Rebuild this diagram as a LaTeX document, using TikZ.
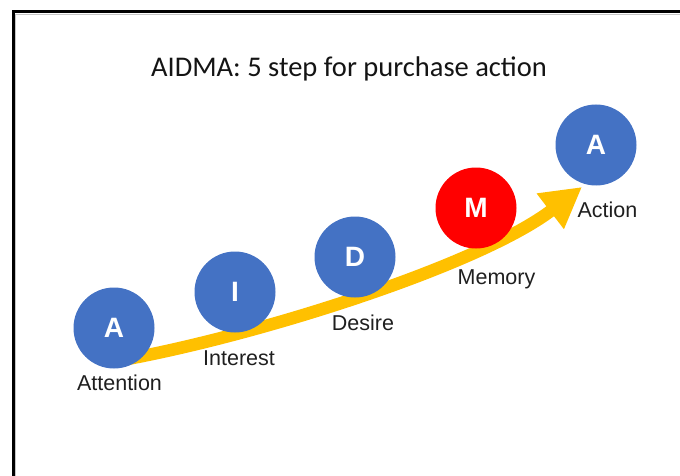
\documentclass[tikz,border=0pt]{standalone}
\usepackage{fontspec}
\setmainfont{Liberation Sans}
\newfontfamily\headingfont{Carlito}
\usetikzlibrary{arrows.meta}
\definecolor{stepblue}{HTML}{4472C4}
\definecolor{stepred}{HTML}{FF0000}
\definecolor{flowgold}{HTML}{FFC000}
\begin{document}
\begin{tikzpicture}[x=1pt,y=-1pt,
  stage/.style={circle, fill=stepblue, minimum size=81pt, inner sep=0pt,
    text=white, font=\fontsize{28}{28}\selectfont\bfseries},
  caption/.style={anchor=base, text=black!88, font=\fontsize{21.5}{21.5}\selectfont},
]
\useasboundingbox (0,0) rectangle (680,476);
\clip (0,0) rectangle (680,476);

% frame with a faint inner shadow
\draw[gray!45, line width=1pt] (15.5,490) |- (690,14.5);
\draw[black, line width=3pt] (13.5,490) |- (690,12);

% heading
\node[anchor=base, text=black!92, font=\headingfont\fontsize{28.5}{28.5}\selectfont]
  (title) at (349,77) {AIDMA: 5 step for purchase action};

% rising arrow behind the stages
\coordinate (flowstart) at (122,360);
\coordinate (flowtip) at (582,187);
\draw[flowgold, line width=12.5pt, -{Triangle[length=40pt,width=42pt]}]
  (flowstart) .. controls (260,335) and (480,265) .. (flowtip);

% stages
\node[stage] (att) at (114,328) {A};
\node[stage] (int) at (235,292) {I};
\node[stage] (des) at (355,257) {D};
\node[stage, fill=stepred] (mem) at (476,208) {M};
\node[stage] (act) at (596,145) {A};

% stage names
\node[caption] (attname) at (119.5,390) {Attention};
\node[caption] (intname) at (239,365) {Interest};
\node[caption] (desname) at (363,330) {Desire};
\node[caption] (memname) at (496.5,284) {Memory};
\node[caption] (actname) at (607.5,217) {Action};
\end{tikzpicture}
\end{document}
